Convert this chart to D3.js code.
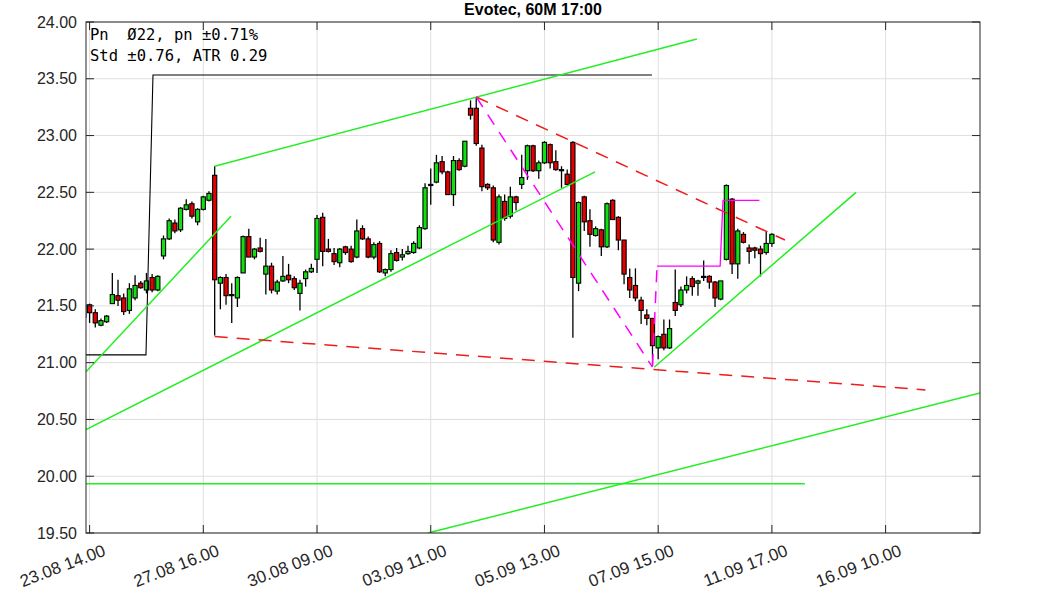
<!DOCTYPE html>
<html><head><meta charset="utf-8">
<script src="https://cdn.jsdelivr.net/npm/d3@7"></script>
<style>body{margin:0;background:#fff;} svg{display:block;}</style>
</head><body><svg id="c" width="1063" height="591"></svg>
<script>
// ---- data ----
const title = "Evotec, 60M 17:00";
const infoLines = ["Pn  Ø22, pn ±0.71%", "Std ±0.76, ATR 0.29"];
const firstCandle = -1; // candle index of first entry
const open = [21.40,21.51,21.44,21.33,21.36,21.52,21.59,21.57,21.46,21.57,21.70,21.64,21.75,21.64,21.94,22.09,22.23,22.17,22.35,22.40,22.24,22.35,22.43,22.65,21.70,21.75,21.60,21.57,21.79,22.11,21.93,22.01,21.78,21.85,21.63,21.72,21.77,21.74,21.61,21.74,21.80,21.91,22.28,22.00,21.96,21.88,22.02,22.00,21.93,22.18,22.09,21.93,22.05,21.79,21.82,21.97,21.93,21.96,21.97,22.01,22.18,22.57,22.59,22.77,22.68,22.48,22.78,22.73,23.24,23.24,22.89,22.57,22.54,22.06,22.42,22.29,22.46,22.57,22.69,22.91,22.69,22.76,22.92,22.77,22.70,22.66,22.94,21.70,22.46,22.25,22.12,22.17,22.02,22.43,22.28,22.08,21.75,21.68,21.55,21.42,21.39,21.13,21.25,21.13,21.53,21.51,21.64,21.74,21.70,21.76,21.76,21.71,21.56,21.91,22.44,21.87,22.13,22.01,22.01,22.00,21.97,22.05];
const high = [21.53,21.52,21.47,21.39,21.42,21.79,21.73,21.61,21.70,21.77,21.72,21.79,21.78,21.77,22.12,22.27,22.26,22.37,22.44,22.42,22.36,22.47,22.51,22.73,21.76,21.78,21.70,21.76,22.12,22.18,22.01,22.10,22.09,21.88,21.73,21.94,21.87,21.76,21.73,21.82,21.87,22.30,22.32,22.09,22.01,22.01,22.03,22.03,22.26,22.21,22.11,22.06,22.07,21.83,21.99,22.01,22.00,22.03,22.07,22.21,22.58,22.71,22.83,22.82,22.69,22.82,22.80,22.95,23.31,23.34,22.92,22.58,22.56,22.48,22.48,22.55,22.47,22.83,22.92,22.92,22.78,22.95,22.93,22.87,22.73,22.70,22.95,22.42,22.47,22.35,22.20,22.18,22.41,22.44,22.29,22.08,21.83,21.83,21.58,21.47,21.39,21.24,21.38,21.38,21.82,21.67,21.76,21.76,21.73,21.90,21.77,21.72,21.72,22.57,22.45,22.18,22.15,22.04,22.02,22.03,22.15,22.14];
const low = [21.36,21.35,21.31,21.32,21.35,21.52,21.50,21.42,21.43,21.55,21.65,21.61,21.62,21.63,21.91,22.08,22.14,22.15,22.34,22.27,22.21,22.34,22.42,21.24,21.47,21.51,21.35,21.49,21.79,21.93,21.91,21.97,21.60,21.61,21.60,21.71,21.70,21.64,21.46,21.67,21.79,21.79,21.85,21.97,21.86,21.84,21.95,21.88,21.92,22.08,21.92,21.91,21.79,21.76,21.80,21.89,21.90,21.95,21.96,22.00,22.17,22.39,22.58,22.66,22.48,22.38,22.69,22.72,23.14,22.91,22.51,22.52,22.06,22.04,22.25,22.27,22.34,22.53,22.61,22.68,22.62,22.75,22.71,22.69,22.54,22.56,21.22,21.63,22.16,22.02,22.11,21.94,22.01,22.26,21.99,21.69,21.57,21.54,21.34,21.33,20.97,21.03,21.11,21.12,21.41,21.49,21.61,21.59,21.59,21.72,21.65,21.49,21.55,21.90,21.78,21.74,22.05,21.87,21.92,21.76,21.95,22.02];
const close = [21.51,21.44,21.35,21.37,21.41,21.60,21.55,21.45,21.65,21.68,21.66,21.72,21.64,21.76,22.09,22.25,22.16,22.36,22.39,22.29,22.35,22.46,22.49,21.73,21.75,21.59,21.59,21.75,22.11,21.93,22.00,21.98,21.85,21.64,21.71,21.76,21.73,21.66,21.70,21.80,21.83,22.27,21.98,21.98,21.89,22.00,21.97,21.89,22.16,22.09,21.93,22.04,21.80,21.82,21.96,21.90,21.95,21.98,22.05,22.19,22.54,22.56,22.76,22.68,22.48,22.78,22.70,22.95,23.18,22.93,22.55,22.54,22.08,22.46,22.27,22.46,22.41,22.63,22.91,22.69,22.76,22.94,22.76,22.70,22.69,22.57,21.75,22.41,22.24,22.13,22.18,22.02,22.40,22.26,22.08,21.78,21.64,21.57,21.46,21.39,21.15,21.23,21.13,21.30,21.46,21.64,21.68,21.67,21.72,21.75,21.71,21.57,21.72,22.56,21.87,22.16,22.06,21.98,21.99,21.96,22.05,22.13];

const yTicks = [19.5,20,20.5,21,21.5,22,22.5,23,23.5,24];
const xTickIdx = [0,20,40,60,80,100,120,140];
const xTickLabels = ["23.08 14.00","27.08 16.00","30.08 09.00","03.09 11.00","05.09 13.00","07.09 15.00","11.09 17.00","16.09 10.00"];

// trend lines [x1, v1, x2, v2] in candle-index / price units
const greenLines = [[-0.63,20.92,24.87,22.29],[22,22.73,106.8,23.85],[-0.63,20.41,88.9,22.68],[99.3,20.96,134.8,22.50],[-0.63,19.933,125.8,19.933],[59.5,19.50,156.6,20.734]];
const redDashed = [[68,23.34,122.3,22.08],[22,21.23,147,20.76]];
const magentaDashed = [[68,23.34,99,20.96],[99,20.97,99.8,21.85]];
const magentaStep = [[99.8,21.85],[110.9,21.85],[111.4,22.43],[117.8,22.43]];
const blackStep = [[-0.63,21.069],[9.92,21.069],[11.15,23.533],[98.9,23.533]];

// ---- drawing ----
const svg = d3.select("#c");
const L=86,R=980,T=22,B=533;
const x = d3.scaleLinear().domain([-0.63,156.6]).range([L,R]);
const y = d3.scaleLinear().domain([19.5,24]).range([B,T]);
const axisCol = "#262626";

svg.append("defs").append("clipPath").attr("id","clip")
  .append("rect").attr("x",L).attr("y",T).attr("width",R-L).attr("height",B-T);

// grid
const g = svg.append("g");
g.selectAll(".gy").data(yTicks).join("line")
  .attr("x1",L).attr("x2",R).attr("y1",d=>y(d)).attr("y2",d=>y(d))
  .attr("stroke","#dfdfdf").attr("stroke-width",1);
g.selectAll(".gx").data(xTickIdx).join("line")
  .attr("x1",d=>x(d)).attr("x2",d=>x(d)).attr("y1",T).attr("y2",B)
  .attr("stroke","#dfdfdf").attr("stroke-width",1);

const plot = svg.append("g").attr("clip-path","url(#clip)");

const candles = open.map((o,i)=>({i:i+firstCandle,o,h:high[i],l:low[i],c:close[i]}));
const bw = 4.2;
plot.selectAll(".wick").data(candles).join("line")
  .attr("x1",d=>x(d.i)).attr("x2",d=>x(d.i))
  .attr("y1",d=>y(d.h)).attr("y2",d=>y(d.l))
  .attr("stroke","#000").attr("stroke-width",1.3);
plot.selectAll(".body").data(candles).join("rect")
  .attr("x",d=>x(d.i)-bw/2).attr("width",bw)
  .attr("y",d=>y(Math.max(d.o,d.c)))
  .attr("height",d=>Math.max(1,Math.abs(y(d.o)-y(d.c))))
  .attr("fill",d=>d.c>=d.o?"#10e010":"#e40000")
  .attr("stroke","#000").attr("stroke-width",1.1);

const line = d3.line().x(d=>x(d[0])).y(d=>y(d[1]));
plot.selectAll(".bl").data([blackStep]).join("path")
  .attr("d",line).attr("fill","none").attr("stroke","#000").attr("stroke-width",1.1);
plot.selectAll(".gl").data(greenLines).join("line")
  .attr("x1",d=>x(d[0])).attr("y1",d=>y(d[1])).attr("x2",d=>x(d[2])).attr("y2",d=>y(d[3]))
  .attr("stroke","#22ee22").attr("stroke-width",1.5);
plot.selectAll(".rl").data(redDashed).join("line")
  .attr("x1",d=>x(d[0])).attr("y1",d=>y(d[1])).attr("x2",d=>x(d[2])).attr("y2",d=>y(d[3]))
  .attr("stroke","#ee1c1c").attr("stroke-width",1.5).attr("stroke-dasharray","13,9");
plot.selectAll(".ml").data(magentaDashed).join("line")
  .attr("x1",d=>x(d[0])).attr("y1",d=>y(d[1])).attr("x2",d=>x(d[2])).attr("y2",d=>y(d[3]))
  .attr("stroke","#ff00ff").attr("stroke-width",1.5).attr("stroke-dasharray","12,9");
plot.selectAll(".ms").data([magentaStep]).join("path")
  .attr("d",line).attr("fill","none").attr("stroke","#ff00ff").attr("stroke-width",1.3);

// box + ticks
svg.append("rect").attr("x",L).attr("y",T).attr("width",R-L).attr("height",B-T)
  .attr("fill","none").attr("stroke",axisCol).attr("stroke-width",1);
const tl = 8;
svg.selectAll(".yt").data(yTicks).join("path")
  .attr("d",d=>`M${L},${y(d)}h${tl}M${R},${y(d)}h${-tl}`)
  .attr("stroke",axisCol).attr("stroke-width",1);
svg.selectAll(".xt").data(xTickIdx).join("path")
  .attr("d",d=>`M${x(d)},${B}v${-tl}M${x(d)},${T}v${tl}`)
  .attr("stroke",axisCol).attr("stroke-width",1);

svg.selectAll(".ytl").data(yTicks).join("text")
  .attr("x",77).attr("y",d=>y(d)).attr("dy","0.35em")
  .attr("text-anchor","end").attr("font-family","Liberation Sans, Arial, sans-serif")
  .attr("font-size",16).attr("fill",axisCol).text(d=>d3.format(".2f")(d));
svg.selectAll(".xtl").data(xTickIdx).join("text")
  .attr("transform",d=>`translate(${x(d)+17},${555}) rotate(-21)`)
  .attr("text-anchor","end").attr("font-family","Liberation Sans, Arial, sans-serif")
  .attr("font-size",17).attr("fill",axisCol).text((d,i)=>xTickLabels[i]);

svg.append("text").attr("x",(L+R)/2).attr("y",15).attr("text-anchor","middle")
  .attr("font-family","Liberation Sans, Arial, sans-serif").attr("font-weight","bold")
  .attr("font-size",16).attr("fill","#000").text(title);

svg.selectAll(".info").data(infoLines).join("text")
  .attr("x",90).attr("y",(d,i)=>40+i*21).attr("xml:space","preserve")
  .style("white-space","pre")
  .attr("font-family","DejaVu Sans Mono, monospace").attr("font-size",15.5)
  .attr("fill","#000").text(d=>d);
</script></body></html>
